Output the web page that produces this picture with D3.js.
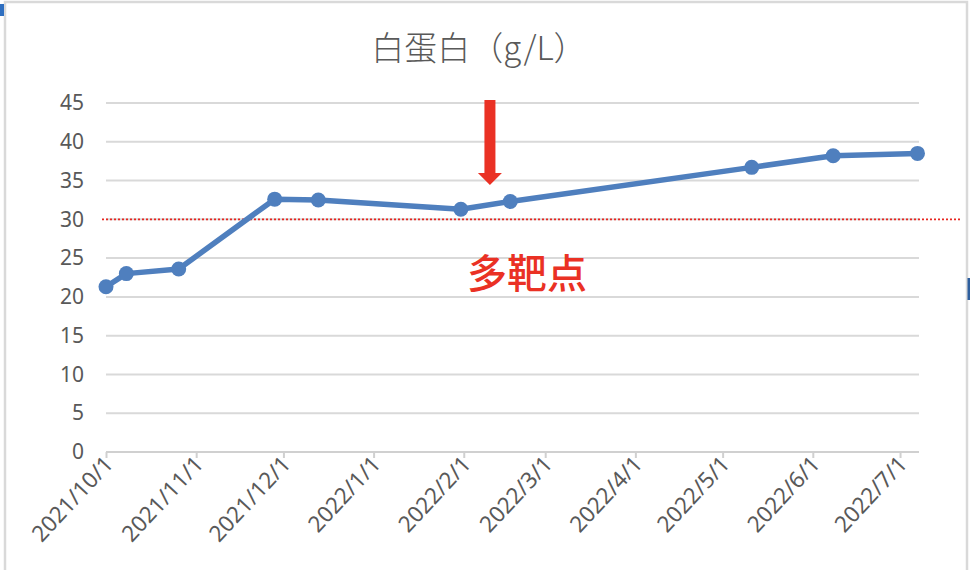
<!DOCTYPE html>
<html>
<head>
<meta charset="utf-8">
<script src="https://cdn.jsdelivr.net/npm/d3@7"></script>
<style>
  body { margin: 0; background: #fff; }
  svg { display: block; }
</style>
</head>
<body>
<div id="chart"></div>
<script>
// Data
const dates = ["2021-10-01", "2021-10-08", "2021-10-26", "2021-11-28", "2021-12-13",
  "2022-01-31", "2022-02-17", "2022-05-11", "2022-06-08", "2022-07-07"];
const albumin = [21.3, 23.0, 23.6, 32.6, 32.5, 31.3, 32.3, 36.7, 38.2, 38.5];
const tickDates = ["2021-10-01", "2021-11-01", "2021-12-01", "2022-01-01", "2022-02-01",
  "2022-03-01", "2022-04-01", "2022-05-01", "2022-06-01", "2022-07-01"];
const yTicks = [0, 5, 10, 15, 20, 25, 30, 35, 40, 45];
const threshold = 30;
const markerDate = "2022-02-10";
const title = "白蛋白（g/L）";
const note = "多靶点";

const W = 970, H = 570;
const plotLeft = 106, plotRight = 919, plotTop = 103, plotBottom = 452;

const parse = d3.timeParse("%Y-%m-%d");
const data = dates.map((d, i) => ({ date: parse(d), value: albumin[i] }));

const svg = d3.select("#chart").append("svg")
  .attr("width", W)
  .attr("height", H);

// outer frame of the chart area
svg.append("rect")
  .attr("x", 5).attr("y", 2)
  .attr("width", 962).attr("height", 620)
  .attr("fill", "#fff")
  .attr("stroke", "#d9d9d9")
  .attr("stroke-width", 2.5);

// bits of neighbouring objects at the edges
svg.append("rect").attr("x", 0).attr("y", 4).attr("width", 4).attr("height", 12).attr("fill", "#2f6fc0");
svg.append("rect").attr("x", 967.5).attr("y", 278).attr("width", 2.5).attr("height", 22).attr("fill", "#2e5f9e");

const x = d3.scaleTime()
  .domain([parse("2021-10-01"), parse("2022-07-07")])
  .range([plotLeft, 917.5]);

const y = d3.scaleLinear()
  .domain([0, 45])
  .range([plotBottom, plotTop]);

// Title
svg.append("text")
  .attr("x", 479)
  .attr("y", 60)
  .attr("text-anchor", "middle")
  .attr("fill", "#595959")
  .style("font-family", "'Noto Sans CJK SC', 'Noto Sans', sans-serif")
  .style("font-size", "33px")
  .style("font-weight", 300)
  .text(title);

// Gridlines
svg.append("g")
  .selectAll("line")
  .data(yTicks.filter(d => d > 0))
  .enter().append("line")
  .attr("x1", plotLeft)
  .attr("x2", plotRight)
  .attr("y1", d => y(d))
  .attr("y2", d => y(d))
  .attr("stroke", "#d9d9d9")
  .attr("stroke-width", 2);

// Y axis labels
const yAxis = d3.axisLeft(y)
  .tickValues(yTicks)
  .tickSize(0)
  .tickPadding(22);
svg.append("g")
  .attr("transform", `translate(${plotLeft},0)`)
  .call(yAxis)
  .call(g => g.select(".domain").remove())
  .call(g => g.selectAll("text")
    .attr("fill", "#595959")
    .style("font-family", "'Noto Sans', sans-serif")
    .style("font-size", "21px"));

// X axis
const xAxis = d3.axisBottom(x)
  .tickValues(tickDates.map(parse))
  .tickSize(6)
  .tickSizeOuter(0)
  .tickFormat(d3.timeFormat("%Y/%-m/%-d"));
const gx = svg.append("g")
  .attr("transform", `translate(0,${plotBottom})`)
  .call(xAxis);
gx.select(".domain")
  .attr("d", `M${plotLeft},0H${plotRight}`)
  .attr("stroke", "#d0d0d0")
  .attr("stroke-width", 2);
gx.selectAll(".tick line")
  .attr("stroke", "#d0d0d0")
  .attr("stroke-width", 2);
gx.selectAll("text")
  .attr("fill", "#595959")
  .style("font-family", "'Noto Sans', sans-serif")
  .style("font-size", "22.5px")
  .attr("text-anchor", "end")
  .attr("dy", 0)
  .attr("transform", "translate(8,13) rotate(-47)")
  .attr("y", 0)
  .attr("x", 0);

// Threshold line
svg.append("line")
  .attr("x1", 102)
  .attr("x2", 962)
  .attr("y1", y(threshold))
  .attr("y2", y(threshold))
  .attr("stroke", "#e8251f")
  .attr("stroke-width", 1.8)
  .attr("stroke-dasharray", "2,2");

// Data line
const line = d3.line()
  .x(d => x(d.date))
  .y(d => y(d.value));

svg.append("path")
  .datum(data)
  .attr("fill", "none")
  .attr("stroke", "#4f7fbe")
  .attr("stroke-width", 5.5)
  .attr("stroke-linejoin", "round")
  .attr("d", line);

svg.append("g")
  .selectAll("circle")
  .data(data)
  .enter().append("circle")
  .attr("cx", d => x(d.date))
  .attr("cy", d => y(d.value))
  .attr("r", 7.5)
  .attr("fill", "#4f7fbe");

// Arrow annotation
const ax = x(parse(markerDate));
svg.append("path")
  .attr("d", `M${ax - 5.5},100 H${ax + 5.5} V173 H${ax + 12} L${ax},185 L${ax - 12},173 H${ax - 5.5} Z`)
  .attr("fill", "#ea3124");

svg.append("text")
  .attr("x", 527)
  .attr("y", 288)
  .attr("text-anchor", "middle")
  .attr("fill", "#ea3124")
  .style("font-family", "'Noto Sans CJK SC', sans-serif")
  .style("font-size", "40px")
  .style("font-weight", 500)
  .text(note);
</script>
</body>
</html>
